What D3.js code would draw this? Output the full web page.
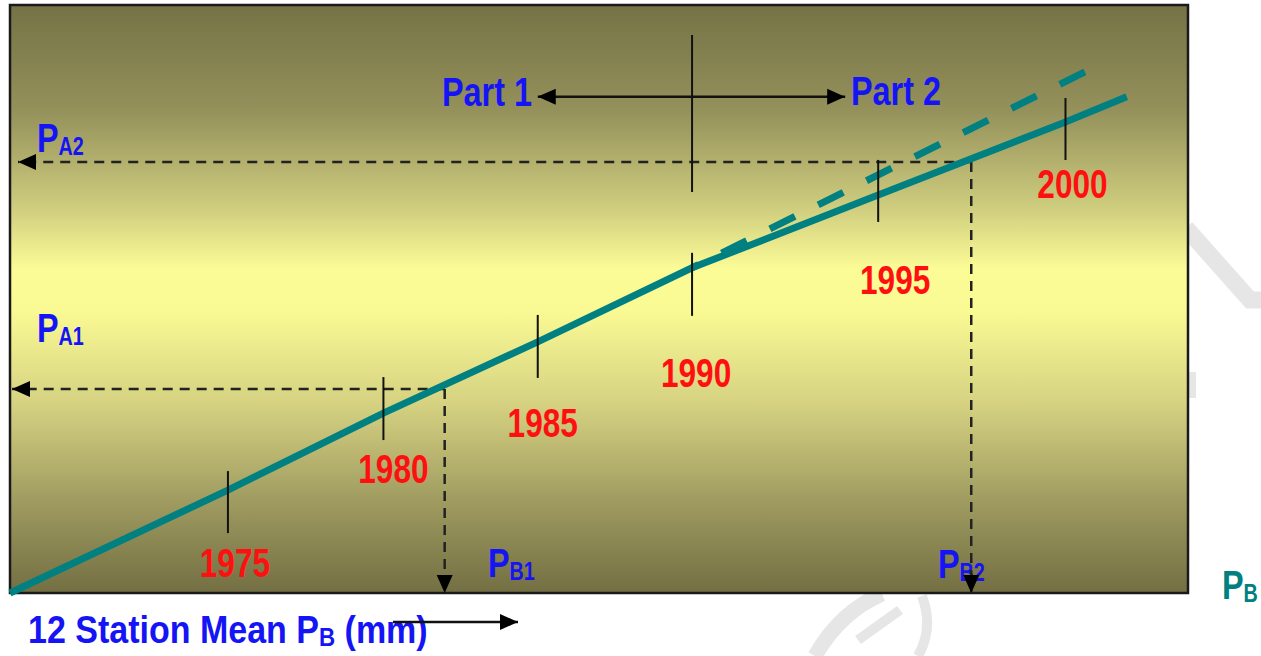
<!DOCTYPE html>
<html>
<head>
<meta charset="utf-8">
<script src="https://cdn.jsdelivr.net/npm/d3@7"></script>
<style>
  body { margin: 0; background: #fff; }
  svg { display: block; }
</style>
</head>
<body>
<div id="chart"></div>
<script>
// Double mass curve: cumulative station A vs cumulative 12 station mean (P_B)
// values are in % of the axis length (schematic, no units on the axes)
const years = [1975, 1980, 1985, 1990, 1995, 2000];
const cumB = [18.5, 31.7, 44.8, 57.9, 73.7, 89.6];
const cumA = [17.5, 30.6, 42.7, 55.3, 67.7, 80.1];
const origin = [0, 0];
const solidEnd = [94.8, 84.4];
const dashedEnd = [91.9, 89.3];
const breakYear = 1990;

// read-off points
const readNames = ['1', '2'];
const readB = [36.9, 81.6];
const readA = [34.7, 73.3];
const readArrowTip = [0.17, 0.68];

// part arrow / divider
const partLabels = ['Part 1', 'Part 2'];
const partArrowB = [44.8, 70.9];
const partArrowA = 84.4;
const dividerA = [68.2, 94.9];

// tick spans above / below the curve and label nudges (px)
const tickUp = [19, 36, 27, 15, 35, 24];
const tickDown = [43, 27, 36, 48, 27, 38];
const labelDx = [7, 10, 5, 4, 17, 7];
const labelDy = [87, 70, 95, 119, 99, 76];

const config = {
  width: 1261,
  height: 656,
  box: { left: 10, top: 5, right: 1188, bottom: 593 }
};

const font = '"Liberation Sans", Arial, sans-serif';
const teal = '#008080';
const blue = '#1414f5';
const red = '#ff1010';

const svg = d3.select('#chart').append('svg')
  .attr('width', config.width)
  .attr('height', config.height);

const x = d3.scaleLinear().domain([0, 100]).range([config.box.left, config.box.right]);
const y = d3.scaleLinear().domain([0, 100]).range([config.box.bottom, config.box.top]);

const defs = svg.append('defs');
const grad = defs.append('linearGradient')
  .attr('id', 'bg')
  .attr('x1', 0).attr('y1', 0).attr('x2', 0).attr('y2', 1);
[[0, '#757246'], [0.18, '#94915b'], [0.34, '#cdcb7d'], [0.45, '#fcfc97'],
 [0.52, '#fafa94'], [0.68, '#d5d181'], [0.86, '#9a965d'], [1, '#736f43']]
  .forEach(s => grad.append('stop').attr('offset', s[0]).attr('stop-color', s[1]));

defs.append('marker')
  .attr('id', 'arrow')
  .attr('markerUnits', 'userSpaceOnUse')
  .attr('markerWidth', 18).attr('markerHeight', 18)
  .attr('viewBox', '0 0 18 18')
  .attr('refX', 18).attr('refY', 9)
  .attr('orient', 'auto-start-reverse')
  .append('path')
  .attr('d', 'M0,1 L18,9 L0,17 Z')
  .attr('fill', '#000');

// faint watermark behind the figure
const wm = svg.append('g')
  .attr('fill', 'none')
  .attr('stroke', '#e6e6e6')
  .attr('stroke-linecap', 'butt');
wm.append('path').attr('d', 'M1186,228 L1250,300 L1261,300').attr('stroke-width', 17);
wm.append('path').attr('d', 'M1192,372 L1192,398').attr('stroke-width', 8);
wm.append('path').attr('d', 'M815,656 Q840,612 882,594').attr('stroke-width', 15);
wm.append('path').attr('d', 'M858,640 L900,610').attr('stroke-width', 10);
wm.append('path').attr('d', 'M922,596 Q934,628 918,656').attr('stroke-width', 10);

// background box
svg.append('rect')
  .attr('x', x(0)).attr('y', y(100))
  .attr('width', x(100) - x(0)).attr('height', y(0) - y(100))
  .attr('fill', 'url(#bg)')
  .attr('stroke', '#1a1a1a')
  .attr('stroke-width', 2.5);

const g = svg.append('g');

// labels
function addText(sel, tx, ty, parts, color, size, anchor, squeeze) {
  const t = sel.append('text')
    .attr('transform', `translate(${tx},${ty}) scale(${squeeze || 0.79},1)`)
    .attr('font-family', font)
    .attr('font-weight', 'bold')
    .attr('font-size', size)
    .attr('fill', color)
    .attr('text-anchor', anchor || 'start');
  let shift = 0;
  parts.forEach(p => {
    const span = t.append('tspan').text(p.t);
    const dy = (p.dy || 0) - shift;
    if (dy) span.attr('dy', dy);
    if (p.s) span.attr('font-size', p.s);
    shift = p.dy || 0;
  });
  return t;
}

readNames.forEach((n, i) => {
  addText(g, 37, y(readA[i]) - [47, 10][i], [{ t: 'P' }, { t: 'A' + n, s: 25, dy: 3 }], blue, 41);
});
addText(g, 488, 577, [{ t: 'P' }, { t: 'B1', s: 25, dy: 3 }], blue, 41);
addText(g, 938, 578, [{ t: 'P' }, { t: 'B2', s: 25, dy: 3 }], blue, 41);
addText(g, 442, 106, [{ t: partLabels[0] }], blue, 41);
addText(g, 851, 105, [{ t: partLabels[1] }], blue, 41);

// curve points
const pts = [origin].concat(cumB.map((b, i) => [b, cumA[i]]));
const breakIdx = years.indexOf(breakYear) + 1;
const solidPts = pts.concat([solidEnd]);
const dashedPts = [pts[breakIdx], dashedEnd];

const line = d3.line().x(d => x(d[0])).y(d => y(d[1]));

// dashed black read-off lines
readB.forEach((b, i) => {
  g.append('path')
    .attr('d', line([[b, readA[i]], [readArrowTip[i], readA[i]]]))
    .attr('fill', 'none')
    .attr('stroke', '#222')
    .attr('stroke-width', 2.5)
    .attr('stroke-dasharray', '10,7')
    .attr('marker-end', 'url(#arrow)');
  g.append('path')
    .attr('d', line([[b, readA[i]], [b, 0]]))
    .attr('fill', 'none')
    .attr('stroke', '#222')
    .attr('stroke-width', 2.5)
    .attr('stroke-dasharray', '10,7')
    .attr('marker-end', 'url(#arrow)');
});

// divider and part arrow
g.append('line')
  .attr('x1', x(cumB[breakIdx - 1])).attr('x2', x(cumB[breakIdx - 1]))
  .attr('y1', y(dividerA[0])).attr('y2', y(dividerA[1]))
  .attr('stroke', '#111').attr('stroke-width', 2);

g.append('line')
  .attr('x1', x(partArrowB[0])).attr('x2', x(partArrowB[1]))
  .attr('y1', y(partArrowA)).attr('y2', y(partArrowA))
  .attr('stroke', '#111').attr('stroke-width', 2.5)
  .attr('marker-start', 'url(#arrow)')
  .attr('marker-end', 'url(#arrow)');

// double mass curve
g.append('path')
  .attr('d', line(dashedPts))
  .attr('fill', 'none')
  .attr('stroke', teal)
  .attr('stroke-width', 7)
  .attr('stroke-dasharray', '28,26')
  .attr('stroke-dashoffset', 21);

g.append('path')
  .attr('d', line(solidPts))
  .attr('fill', 'none')
  .attr('stroke', teal)
  .attr('stroke-width', 7);

// year ticks + labels
years.forEach((yr, i) => {
  const px = x(cumB[i]);
  const py = y(cumA[i]);
  g.append('line')
    .attr('x1', px).attr('x2', px)
    .attr('y1', py - tickUp[i]).attr('y2', py + tickDown[i])
    .attr('stroke', '#111').attr('stroke-width', 2);
  addText(g, px + labelDx[i], py + labelDy[i], [{ t: String(yr) }], red, 40, 'middle');
});

addText(svg, 1222, 599, [{ t: 'P' }, { t: 'B', s: 25, dy: 3 }], teal, 41);
addText(svg, 28, 643, [{ t: '12 Station Mean P' }, { t: 'B', s: 25, dy: 3 }, { t: ' (mm)' }], blue, 38, 'start', 0.895);

// arrow below the axis
svg.append('line')
  .attr('x1', 393).attr('x2', 518)
  .attr('y1', 622).attr('y2', 622)
  .attr('stroke', '#111').attr('stroke-width', 2.5)
  .attr('marker-end', 'url(#arrow)');
</script>
</body>
</html>
